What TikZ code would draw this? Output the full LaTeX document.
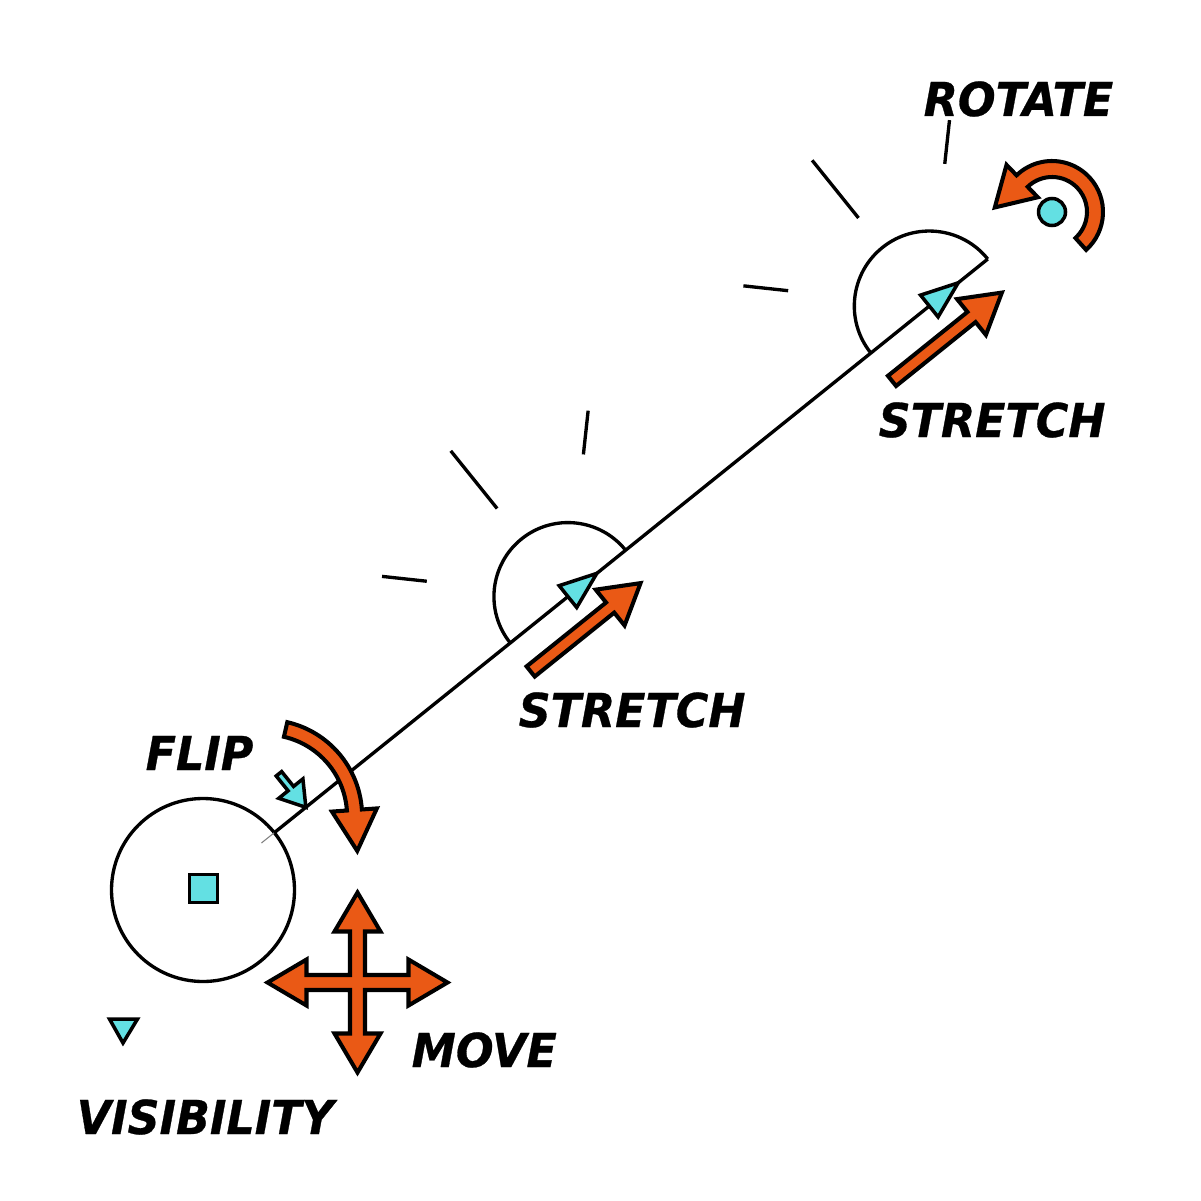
\documentclass[tikz,border=0pt]{standalone}
\usepackage{fontspec}
\usetikzlibrary{calc}
\newfontfamily\labfont[FakeStretch=0.95, FakeBold=0.6]{DejaVu Sans Bold Oblique}
\definecolor{ora}{RGB}{234,89,21}
\definecolor{cya}{RGB}{99,224,227}
\tikzset{
  oarrow/.style={fill=ora, draw=black, line width=1.15pt, line join=miter},
  carrow/.style={fill=cya, draw=black, line width=1pt},
  thinline/.style={draw=black, line width=0.95pt},
  lab/.style={font={\labfont\fontsize{13.3}{16}\selectfont}, anchor=base west, inner sep=0pt},
}
\begin{document}
\begin{tikzpicture}
\useasboundingbox[fill=white] (0,0) rectangle (12.01,-12.01);
% main axis
\coordinate (C0) at (2.03,-8.90);
\coordinate (M) at ($(C0)+(38.8:4.683)$);
\coordinate (T) at ($(C0)+(38.8:9.32)$);
\coordinate (Ls) at ($(C0)+(38.8:0.75)$);
\coordinate (Lc) at ($(C0)+(38.8:0.915)$);
\coordinate (Le) at ($(C0)+(38.8:10.07)$);
\draw[thinline] (C0) circle[radius=0.915];
\draw[gray, line width=0.3pt] (Ls) -- (Lc);
\draw[thinline] (Lc) -- (Le);
% half circles and ticks
\draw[thinline] ($(M)+(38.8:0.74)$) arc[start angle=38.8, end angle=218.8, radius=0.74];
\draw[thinline] ($(T)+(38.8:0.75)$) arc[start angle=38.8, end angle=218.8, radius=0.75];
\foreach \c in {M,T}{
  \draw[thinline] ($(\c)+(83.8:1.43)$) -- ($(\c)+(83.8:1.87)$);
  \draw[thinline] ($(\c)+(128.8:1.13)$) -- ($(\c)+(128.8:1.87)$);
  \draw[thinline] ($(\c)+(173.8:1.42)$) -- ($(\c)+(173.8:1.87)$);
  \draw[carrow] ($(\c)+(128.8:0.14)$) -- ($(\c)+(38.8:0.37)$) -- ($(\c)+(308.8:0.14)$) -- cycle;
  \begin{scope}[shift={($(\c)+(218.8:0.76)+(308.8:0.35)$)}, rotate=38.8]
    \draw[oarrow] (0,0.065) -- (1.02,0.065) -- (1.02,0.23) -- (1.41,0) -- (1.02,-0.23) -- (1.02,-0.065) -- (0,-0.065) -- cycle;
  \end{scope}
}
% rotate arrow
\coordinate (R0) at (10.52,-2.12);
\draw[oarrow] ($(R0)+(-48:0.51)$) arc[start angle=-48, end angle=134, radius=0.51]
  -- ($(R0)+(134:0.655)$) -- ($(R0)+(134:0.43)+(224:0.38)$) -- ($(R0)+(134:0.205)$)
  -- ($(R0)+(134:0.35)$) arc[start angle=134, end angle=-48, radius=0.35] -- cycle;
\draw[carrow] (R0) circle[radius=0.135];
% flip arrow
\coordinate (F0) at (2.656,-8.162);
\draw[oarrow] ($(F0)+(77:0.965)$) arc[start angle=77, end angle=4, radius=0.965]
  -- ($(F0)+(4:1.115)$) -- ($(F0)+(4:0.89)+(-86:0.41)$) -- ($(F0)+(4:0.665)$)
  -- ($(F0)+(4:0.815)$) arc[start angle=4, end angle=77, radius=0.815] -- cycle;
% small cyan flip arrow
\coordinate (Ft) at ($(C0)+(38.8:1.32)$);
\begin{scope}[shift={($(Ft)+(128.8:0.43)$)}, rotate=-51.2]
  \draw[carrow] (0,0.035) -- (0.19,0.035) -- (0.19,0.155) -- (0.43,0) -- (0.19,-0.155) -- (0.19,-0.035) -- (0,-0.035) -- cycle;
\end{scope}
% move cross
\coordinate (X0) at (3.575,-9.825);
\begin{scope}[shift={(X0)}]
  \draw[oarrow] (0,0.9) -- (0.23,0.51) -- (0.075,0.51) -- (0.075,0.075) -- (0.51,0.075) -- (0.51,0.23) -- (0.9,0)
    -- (0.51,-0.23) -- (0.51,-0.075) -- (0.075,-0.075) -- (0.075,-0.51) -- (0.23,-0.51) -- (0,-0.9)
    -- (-0.23,-0.51) -- (-0.075,-0.51) -- (-0.075,-0.075) -- (-0.51,-0.075) -- (-0.51,-0.23) -- (-0.9,0)
    -- (-0.51,0.23) -- (-0.51,0.075) -- (-0.075,0.075) -- (-0.075,0.51) -- (-0.23,0.51) -- cycle;
\end{scope}
% square and visibility triangle
\draw[carrow] (1.895,-8.745) rectangle (2.175,-9.025);
\draw[carrow] (1.095,-10.19) -- (1.375,-10.19) -- (1.23,-10.43) -- cycle;
% labels
\node[lab] (trot) at (9.23,-1.16) {ROTATE};
\node[lab] (tst1) at (8.78,-4.37) {STRETCH};
\node[lab] (tst2) at (5.18,-7.27) {STRETCH};
\node[lab] (tflip) at (1.45,-7.70) {FLIP};
\node[lab] (tmove) at (4.11,-10.67) {MOVE};
\node[lab] (tvis) at (0.76,-11.34) {VISIBILITY};
\end{tikzpicture}
\end{document}
